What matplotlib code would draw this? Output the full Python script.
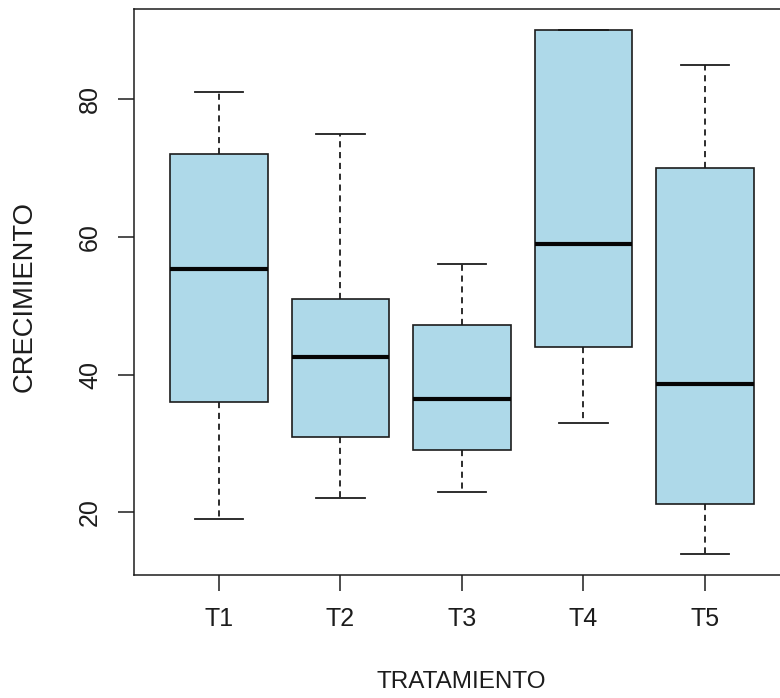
import matplotlib
matplotlib.use("Agg")
import matplotlib.pyplot as plt

# ---- data ----
categories = ["T1", "T2", "T3", "T4", "T5"]
whislo = [19, 22, 23, 33, 14]
q1 = [36, 31, 29, 44, 21.2]
med = [55.4, 42.5, 36.5, 58.9, 38.6]
q3 = [72, 51, 47.2, 90, 70]
whishi = [81, 75, 56, 90, 85]
y_ticks = [20, 40, 60, 80]
x_label = "TRATAMIENTO"
y_label = "CRECIMIENTO"

font = ["Liberation Sans", "DejaVu Sans"]

W, H = 780, 698
fig = plt.figure(figsize=(W / 100, H / 100), dpi=100)
left_px, right_px, top_px, bot_px = 133.9, 790.0, 9.4, 574.5
ax = fig.add_axes([left_px / W, 1 - bot_px / H, (right_px - left_px) / W, (bot_px - top_px) / H])

stats = []
for i, c in enumerate(categories):
    stats.append(dict(label=c, whislo=whislo[i], q1=q1[i], med=med[i], q3=q3[i],
                      whishi=whishi[i], fliers=[]))

ink = "#1c1c1c"
ax.bxp(stats, positions=range(1, len(categories) + 1), widths=0.8, capwidths=0.4,
       patch_artist=True, showfliers=False,
       boxprops=dict(facecolor="#AED9E9", edgecolor=ink, linewidth=1.2),
       medianprops=dict(color="#050505", linewidth=3.0, solid_capstyle="butt"),
       whiskerprops=dict(color=ink, linewidth=1.3, linestyle=(0, (3.4, 2.6))),
       capprops=dict(color=ink, linewidth=1.3))

lo = min(whislo); hi = max(whishi); r = hi - lo
ax.set_ylim(lo - 0.04 * r, hi + 0.04 * r)
ax.set_xlim(0.3, len(categories) + 0.7)
ax.set_yticks(y_ticks)
ax.set_yticklabels([str(t) for t in y_ticks], rotation=90, va="center",
                   fontfamily=font, fontsize=18, color=ink)
ax.set_xticks(range(1, len(categories) + 1))
ax.set_xticklabels(categories, fontfamily=font, fontsize=18, color=ink)
ax.tick_params(axis="both", length=11.5, width=1.1, color=ink)
ax.tick_params(axis="x", pad=12)
ax.tick_params(axis="y", pad=11.5)
for s in ax.spines.values():
    s.set_color(ink)
    s.set_linewidth(1.1)

fig.text(461 / W, 1 - 682 / H, x_label, ha="center", va="center",
         fontfamily=font, fontsize=17.5, color=ink)
fig.text(25 / W, 1 - 296.5 / H, y_label, ha="center", va="center", rotation=90,
         fontfamily=font, fontsize=19.7, color=ink)

fig.savefig("out.png", dpi=100)
